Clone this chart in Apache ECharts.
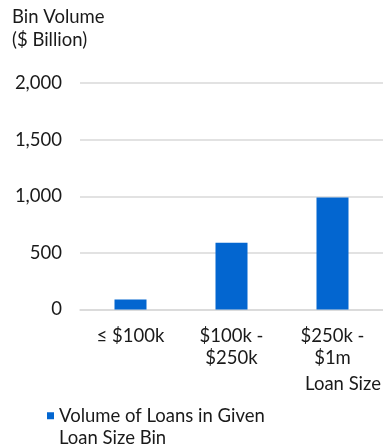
<!DOCTYPE html>
<html>
<head>
<meta charset="utf-8">
<script src="https://cdn.jsdelivr.net/npm/echarts@6/dist/echarts.min.js"></script>
<style>
  html, body { margin: 0; padding: 0; background: #fff; }
  #chart { width: 383px; height: 445px; }
</style>
</head>
<body>
<div id="chart"></div>
<script>
// Loan size bins and the dollar volume in each bin ($ billion)
const categories = ['≤ $100k', '$100k -\n$250k', '$250k -\n$1m'];
const volumes = [88, 590, 988];
const yTicks = [0, 500, 1000, 1500, 2000];
const seriesName = 'Volume of Loans in Given\nLoan Size Bin';
const yTitle = 'Bin Volume\n($ Billion)';
const xTitle = 'Loan Size';

const FONT = 'Lato';
const FS = 18.5;
const LH = 22.5;
const TEXT = '#1a1a1a';
const BAR = '#0366d0';
const GRID = '#d9d9d9';

const chart = echarts.init(document.getElementById('chart'), null, { renderer: 'canvas' });

chart.setOption({
  animation: false,
  textStyle: { fontFamily: FONT },
  grid: { left: 80, top: 83, width: 304, height: 226.5, containLabel: false },
  xAxis: {
    type: 'category',
    data: categories,
    axisLine: { show: true, lineStyle: { color: GRID, width: 1.5 } },
    axisTick: { show: false },
    axisLabel: {
      color: TEXT, fontFamily: FONT, fontSize: FS, lineHeight: LH,
      margin: 15, interval: 0
    }
  },
  yAxis: {
    type: 'value',
    min: yTicks[0],
    max: yTicks[yTicks.length - 1],
    interval: 500,
    axisLine: { show: false },
    axisTick: { show: false },
    splitLine: { lineStyle: { color: GRID, width: 1.5 } },
    axisLabel: {
      color: TEXT, fontFamily: FONT, fontSize: FS, margin: 18,
      formatter: v => v.toLocaleString('en-US')
    }
  },
  legend: {
    left: 42, top: 377,
    icon: 'rect', itemWidth: 7, itemHeight: 7, itemGap: 0,
    selectedMode: false,
    // leading empty line keeps the marker level with the first text line
    formatter: name => '\n' + name,
    textStyle: { color: TEXT, fontFamily: FONT, fontSize: FS, lineHeight: LH },
    data: [seriesName]
  },
  graphic: [
    {
      type: 'text', left: 12, top: 6,
      style: { text: yTitle, fill: TEXT, font: FS + 'px ' + FONT, lineHeight: LH }
    },
    {
      type: 'text', right: 2, top: 375,
      style: { text: xTitle, fill: TEXT, font: FS + 'px ' + FONT, align: 'right' }
    }
  ],
  series: [{
    name: seriesName,
    type: 'bar',
    data: volumes,
    barWidth: 32,
    itemStyle: { color: BAR }
  }]
});
</script>
</body>
</html>
